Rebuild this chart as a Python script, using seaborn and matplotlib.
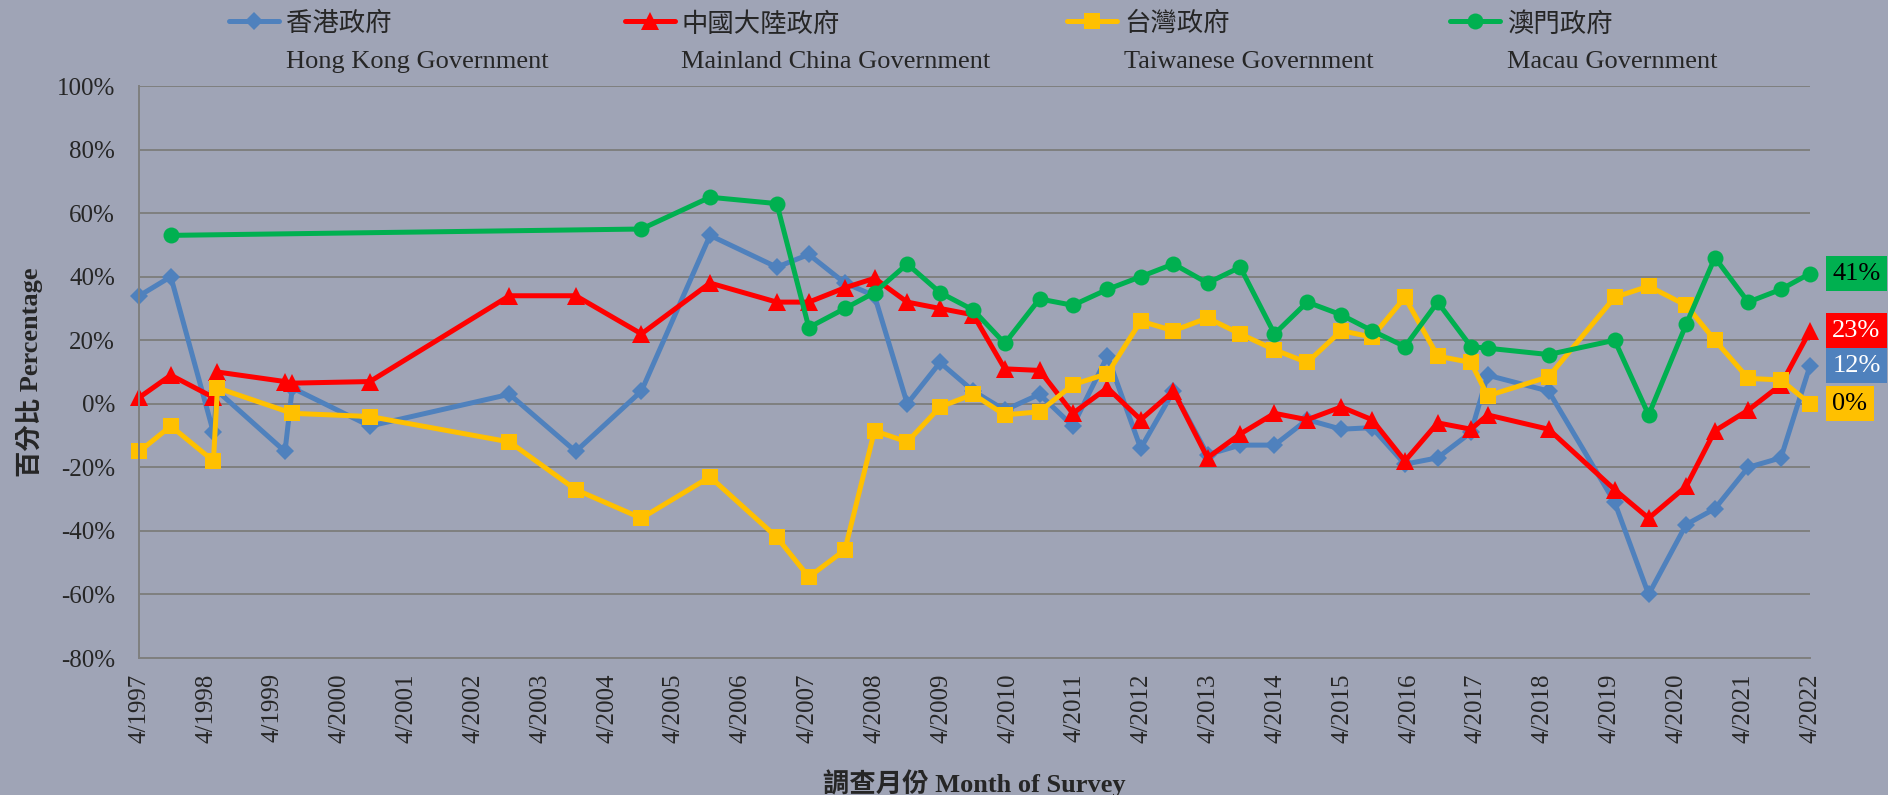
import numpy as np
import pandas as pd
import matplotlib
matplotlib.use("Agg")
import matplotlib.pyplot as plt
import seaborn as sns

# survey months
dates = ["1997-04-01", "1997-09-20", "1998-05-11", "1998-06-02", "1999-06-06", "1999-07-16",
         "2000-09-12", "2002-10-15", "2003-10-12", "2004-10-05", "2005-10-15", "2006-10-15",
         "2007-04-08", "2007-10-22", "2008-04-01", "2008-09-27", "2009-03-25", "2009-09-23",
         "2010-03-14", "2010-09-20", "2011-03-21", "2011-09-26", "2012-03-26", "2012-09-21",
         "2013-03-26", "2013-09-21", "2014-03-27", "2014-09-22", "2015-03-27", "2015-09-11",
         "2016-03-09", "2016-09-04", "2017-03-05", "2017-06-04", "2018-05-03", "2019-04-29",
         "2019-11-01", "2020-05-24", "2020-10-28", "2021-04-28", "2021-10-24", "2022-04-01"]

# net values in %
hk = [34, 40, -9, 4, -15, 5, -7, 3, -15, 4, 53, 43, 47, 38, 34, 0, 13, 4, -2, 3, -7,
      15, -14, 4, -16, -13, -13, -5, -8, -7.5, -19, -17, -9, 9, 4, -31, -60, -38, -33, -20, -17, 12]
china = [2, 9, 2, 10, 7, 6.5, 7, 34, 34, 22, 38, 32, 32, 36.5, 39.5, 32, 30, 28, 11, 10.5, -3,
         5, -5, 4, -17, -9.5, -3, -5, -1, -5, -18, -6, -8, -3.5, -8, -27, -36, -26, -8.5, -2, 6, 23]
taiwan = [-15, -7, -18, 5, None, -3, -4, -12, -27, -36, -23, -42, -54.5, -46, -8.5, -12, -1, 3,
          -3.5, -2.5, 6, 9.5, 26, 23, 27, 22, 17, 13, 23, 21, 33.5, 15, 13, 2.5, 8.5, 33.5, 37, 31,
          20, 8, 7.5, 0]
macau = [None, 53, None, None, None, None, None, None, None, 55, 65, 63, 24, 30, 35, 44, 35, 29.5,
         19, 33, 31, 36, 40, 44, 38, 43, 22, 32, 28, 23, 18, 32, 18, 17.5, 15.5, 20, -3.5, 25, 46,
         32, 36, 41]

names = ["香港政府", "中國大陸政府", "台灣政府", "澳門政府"]
names_en = ["Hong Kong Government", "Mainland China Government", "Taiwanese Government", "Macau Government"]
colors = ["#4f81bd", "#ff0000", "#ffc000", "#00b050"]
markers = ["D", "^", "s", "o"]
marker_sizes = [9.5, 12.5, 11, 11.5]
box_text_colors = ["white", "white", "black", "black"]

df = pd.DataFrame({"date": pd.to_datetime(dates), names[0]: hk, names[1]: china,
                   names[2]: taiwan, names[3]: macau})
long = df.melt(id_vars="date", var_name="series", value_name="pct").dropna()

sns.set_style("white")
plt.rcParams["font.family"] = ["Liberation Serif", "Noto Sans CJK TC"]

bg = "#9fa4b6"
grid_col = "#7f7f7f"
fig = plt.figure(figsize=(18.88, 7.95), dpi=100, facecolor=bg)
ax = fig.add_axes([0.0738, 0.1723, 0.8849, 0.7195])
ax.set_facecolor(bg)

sns.lineplot(data=long, x="date", y="pct", hue="series", style="series",
             hue_order=names, style_order=names, palette=colors, markers=markers,
             dashes=False, lw=3.6, markeredgewidth=0, legend=False, ax=ax)
for line, ms in zip(ax.lines, marker_sizes):
    line.set_markersize(ms)
    line.set_clip_on(False)

# axes
ax.set_ylim(-80, 100)
ax.set_yticks(range(-80, 101, 20))
ax.set_yticklabels([f"{v}%" for v in range(-80, 101, 20)])
ticks = pd.date_range("1997-04-01", "2022-04-01", freq="12MS")
ax.set_xlim(ticks[0], ticks[-1])
ax.set_xticks(ticks)
ax.set_xticklabels([f"{d.month}/{d.year}" for d in ticks], rotation=90)
ax.yaxis.grid(True, color=grid_col, lw=1.4)
ax.xaxis.grid(False)
for s in ["top", "right"]:
    ax.spines[s].set_visible(False)
for s in ["left", "bottom"]:
    ax.spines[s].set_color(grid_col)
    ax.spines[s].set_linewidth(1.4)
ax.tick_params(axis="y", length=5.5, width=1.4, color=grid_col, labelsize=18, pad=12)
ax.tick_params(axis="x", length=0, labelsize=18, pad=11)

ax.set_xlabel("調查月份 Month of Survey", fontsize=19, fontweight="bold", labelpad=19)
ax.set_ylabel("百分比 Percentage", fontsize=19, fontweight="bold", labelpad=10)

# end-value boxes
last = df.iloc[-1]
for name, col, tc in zip(names, colors, box_text_colors):
    v = last[name]
    ax.annotate(f"{v:.0f}%", xy=(last["date"], v), xytext=(16, 0), textcoords="offset points",
                ha="left", va="center", fontsize=19, color=tc, annotation_clip=False,
                bbox=dict(boxstyle="square,pad=0.25", fc=col, ec="none"))

# legend: chinese on first line, english below
labels = [f"{c}\n{e}" for c, e in zip(names, names_en)]
leg = fig.legend(ax.lines[:4], labels, loc="upper left", bbox_to_anchor=(0.11, 1.012), ncol=4,
                 frameon=False, fontsize=19, handlelength=1.9, handletextpad=0.25,
                 columnspacing=2.9, borderpad=0.3)
for t in leg.get_texts():
    t.set_linespacing(1.85)
for h in leg.get_lines():
    h.set_ydata(np.asarray(h.get_ydata()) + 14.5)

plt.savefig("out.png", dpi=100, facecolor=bg)
